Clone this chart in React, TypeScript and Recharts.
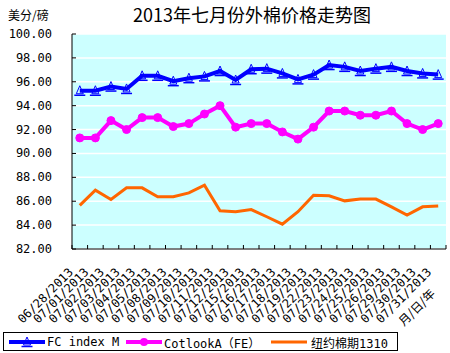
import { LineChart, Line, XAxis, YAxis, CartesianGrid } from 'recharts';

// trading days, July 2013
const dates = [
  '06/28/2013', '07/01/2013', '07/02/2013', '07/03/2013', '07/04/2013', '07/05/2013',
  '07/08/2013', '07/09/2013', '07/10/2013', '07/11/2013', '07/12/2013', '07/15/2013',
  '07/16/2013', '07/17/2013', '07/18/2013', '07/19/2013', '07/22/2013', '07/23/2013',
  '07/24/2013', '07/25/2013', '07/26/2013', '07/29/2013', '07/30/2013', '07/31/2013',
];
const fcIndexM = [
  95.25, 95.25, 95.6, 95.4, 96.5, 96.5, 96.05, 96.3, 96.45, 96.9, 96.15, 97.05,
  97.1, 96.7, 96.2, 96.6, 97.4, 97.25, 96.9, 97.1, 97.25, 96.9, 96.7, 96.6,
];
const cotlookA = [
  91.3, 91.3, 92.75, 92.0, 93.0, 93.0, 92.25, 92.5, 93.3, 94.0, 92.2, 92.5,
  92.5, 91.8, 91.2, 92.2, 93.55, 93.55, 93.2, 93.2, 93.55, 92.5, 92.0, 92.5,
];
const nyFutures1310 = [
  85.65, 86.93, 86.15, 87.12, 87.12, 86.37, 86.37, 86.7, 87.35, 85.2, 85.12, 85.3,
  84.7, 84.08, 85.12, 86.5, 86.45, 86.03, 86.18, 86.18, 85.53, 84.84, 85.53, 85.6,
];
const yTicks = [82, 84, 86, 88, 90, 92, 94, 96, 98, 100];

const W = 450;
const H = 353;
const PLOT_LEFT = 72;
const PLOT_RIGHT = 446;
const STEP = (PLOT_RIGHT - PLOT_LEFT) / dates.length;

const FONT = "'DejaVu Sans Mono', 'Noto Sans CJK SC', monospace";
const CJK = "'Noto Sans CJK SC', sans-serif";

const data = dates.map((d, i) => ({
  date: d,
  fc: fcIndexM[i],
  cot: cotlookA[i],
  ny: nyFutures1310[i],
}));

function YTick(props: any) {
  const { x, y, payload } = props;
  return (
    <g>
      <line x1={PLOT_LEFT} x2={PLOT_LEFT + 4} y1={y} y2={y} stroke="#000" />
      <text x={x} y={y} dy={4} textAnchor="end" fontSize={12} fontFamily={FONT} fill="#000">
        {Number(payload.value).toFixed(2)}
      </text>
    </g>
  );
}

function XTick(props: any) {
  const { x, y, payload, index } = props;
  const last = index === dates.length - 1;
  return (
    <g>
      <line x1={x - STEP / 2} x2={x - STEP / 2} y1={y} y2={y - 4} stroke="#000" />
      {last && <line x1={x + STEP / 2} x2={x + STEP / 2} y1={y} y2={y - 4} stroke="#000" />}
      <text
        x={x - 6}
        y={y + 24}
        textAnchor="end"
        fontSize={12}
        fontFamily={FONT}
        fill="#000"
        transform={`rotate(-45 ${x - 6} ${y + 24})`}
      >
        {payload.value}
      </text>
    </g>
  );
}

function TriDot(props: any) {
  const { cx, cy } = props;
  if (cx == null || cy == null) return null;
  return (
    <g>
      <path
        d={`M${cx - 3.5},${cy + 3} L${cx},${cy - 5} L${cx + 3.5},${cy + 3} Z`}
        fill="none"
        stroke="#0000FF"
        strokeWidth={1}
      />
      <line x1={cx - 5.5} x2={cx + 5.5} y1={cy + 4.5} y2={cy + 4.5} stroke="#0000FF" strokeWidth={1.5} />
    </g>
  );
}

function LegendBox() {
  const item = { position: 'absolute' as const, top: 0, height: 18, display: 'flex', alignItems: 'center' };
  return (
    <div
      style={{
        position: 'absolute', left: 3, top: 332, width: 393, height: 17,
        border: '1px solid #000', background: '#fff', fontFamily: FONT, fontSize: 12,
      }}
    >
      <div style={{ ...item, left: 4 }}>
        <svg width={38} height={12}>
          <line x1={1} x2={37} y1={6} y2={6} stroke="#0000FF" strokeWidth={4} />
          <TriDot cx={19} cy={6} />
        </svg>
        <span style={{ marginLeft: 1 }}>FC index M</span>
      </div>
      <div style={{ ...item, left: 121 }}>
        <svg width={38} height={12}>
          <line x1={1} x2={37} y1={6} y2={6} stroke="#FF00FF" strokeWidth={4} />
          <circle cx={19} cy={6} r={4} fill="#FF00FF" />
        </svg>
        <span style={{ marginLeft: 1 }}>CotlookA（FE）</span>
      </div>
      <div style={{ ...item, left: 266 }}>
        <svg width={38} height={12}>
          <line x1={1} x2={37} y1={6} y2={6} stroke="#FF6600" strokeWidth={3} />
        </svg>
        <span style={{ marginLeft: 3 }}>纽约棉期1310</span>
      </div>
    </div>
  );
}

export default function App() {
  return (
    <div style={{ position: 'relative', width: W, height: H, background: '#fff', overflow: 'hidden' }}>
      <style>{`body{margin:0}`}</style>
      <LineChart width={W} height={H} data={data} margin={{ top: 34, right: W - PLOT_RIGHT, bottom: 0, left: 0 }}>
        <CartesianGrid vertical={false} fill="#CCFFFF" stroke="#FFFFFF" strokeWidth={1.5} />
        <XAxis
          dataKey="date"
          height={104}
          interval={0}
          padding={{ left: STEP / 2, right: STEP / 2 }}
          axisLine={{ stroke: '#000' }}
          tickLine={false}
          tickSize={0}
          tickMargin={0}
          tick={(p: any) => <XTick {...p} />}
        />
        <YAxis
          width={PLOT_LEFT}
          domain={[82, 100]}
          ticks={yTicks}
          interval={0}
          axisLine={{ stroke: '#000' }}
          tickLine={false}
          tickSize={0}
          tickMargin={20}
          tick={(p: any) => <YTick {...p} />}
        />
        <Line
          dataKey="ny"
          stroke="#FF6600"
          strokeWidth={3}
          dot={false}
          isAnimationActive={false}
        />
        <Line
          dataKey="cot"
          stroke="#FF00FF"
          strokeWidth={4}
          dot={{ r: 4, fill: '#FF00FF', stroke: '#FF00FF', strokeWidth: 1 }}
          isAnimationActive={false}
        />
        <Line
          dataKey="fc"
          stroke="#0000FF"
          strokeWidth={4}
          dot={(p: any) => <TriDot key={p.index} {...p} />}
          isAnimationActive={false}
        />
      </LineChart>
      <div style={{ position: 'absolute', left: 8, top: 6, fontFamily: CJK, fontSize: 12 }}>美分/磅</div>
      <div
        style={{
          position: 'absolute', left: 0, width: 504, top: 1, textAlign: 'center',
          fontFamily: CJK, fontSize: 18, whiteSpace: 'nowrap',
        }}
      >
        2013年七月份外棉价格走势图
      </div>
      <div
        style={{
          position: 'absolute', left: 390, top: 298, width: 52, textAlign: 'center',
          fontFamily: CJK, fontSize: 12, transform: 'rotate(-45deg)', whiteSpace: 'nowrap',
        }}
      >
        月/日/年
      </div>
      <LegendBox />
    </div>
  );
}
